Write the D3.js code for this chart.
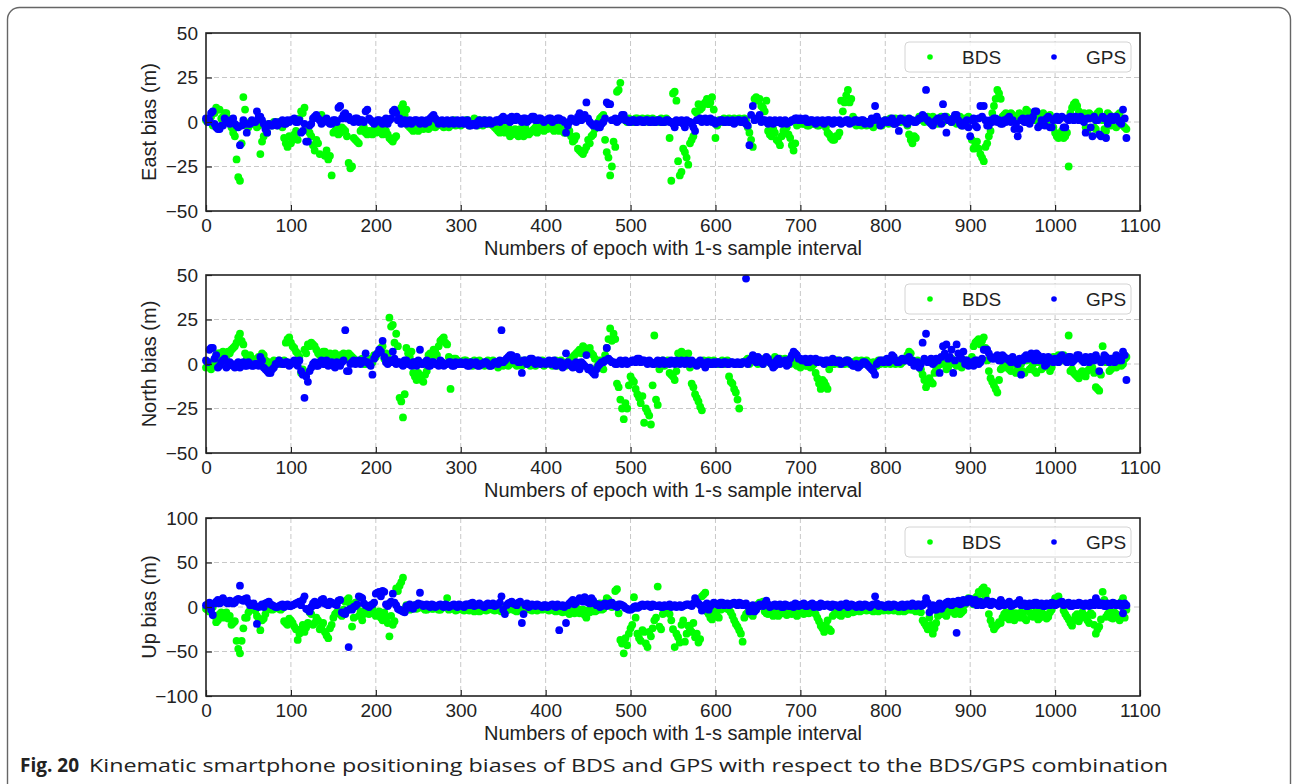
<!DOCTYPE html>
<html>
<head>
<meta charset="utf-8">
<script src="https://cdn.jsdelivr.net/npm/d3@7"></script>
<style>
  body { margin: 0; background: #fff; }
  svg text { font-family: "Liberation Sans", Arial, sans-serif; fill: #222; }
</style>
</head>
<body>
<svg id="canvas"></svg>
<script>
// samples: "A" arrays at epochs 0,4,8..1084, "B" arrays at epochs 2,6,10..1082
const epochStep = 4
const xTicks = [0, 100, 200, 300, 400, 500, 600, 700, 800, 900, 1000, 1100]
const yTicksEN = [-50, -25, 0, 25, 50]
const yTicksU = [-100, -50, 0, 50, 100]
const seriesNames = ['BDS', 'GPS']
const yLabels = ['East bias (m)', 'North bias (m)', 'Up bias (m)']
const xLabel = 'Numbers of epoch with 1-s sample interval'

const eastBdsA = [
  1, 2, -2, 8, 7, 3, 5, -1, -6, -21, -33, 14, -2, 0, -1, -3, -18, -8, -6, -1, 0, -2, -1, -9, -14,
  -12, -7, -10, 6, 8, -4, -8, -16, -12, 4, -19, -21, -30, -5, -7, -3, -5, -23, -25, -10, -12, -4, -6, -5, -7,
  -6, -3, -7, -5, -9, -11, -8, 6, 10, 7, -3, -5, -4, -2, -4, -1, -3, 0, -2, -1, -3, 0, -2, 1, -1,
  -2, 0, 1, -1, 2, -2, 0, 1, -1, 0, -3, -5, -4, -6, -3, -7, -4, -8, -6, -3, -7, -5, -3, -4, -2,
  -3, -2, -4, -3, -5, -4, -6, -5, -11, -8, -16, -18, -14, -12, -7, -3, 2, 4, -17, -30, -11, 17, 22, 2, 0,
  1, 0, 2, 1, 0, 2, 1, 0, 1, 2, 0, 1, -33, 17, -22, -28, -17, -24, -10, 6, 10, 8, 11, 10, 14,
  -9, 1, 0, 1, 2, 0, 1, 2, 0, 1, -6, -14, 14, 13, 8, 12, -7, -4, -10, -13, -5, -3, -9, -16, -2,
  0, -1, -2, 0, -1, -2, 0, -1, -6, -9, -10, -8, 12, 11, 18, 13, -1, 0, -2, -1, 0, -2, -1, 0, -2,
  1, -1, 0, 2, 1, 1, 0, -7, -12, -9, 3, 1, 2, 0, 3, 1, 2, 0, 3, 1, 2, -1, 3, 1, 2,
  1, -15, -11, -18, -22, -12, -5, 9, 18, 13, 4, 2, 5, 1, 3, 2, 4, 6, 3, 1, 4, 2, 3, 1, 2,
  -6, -9, -5, -8, -25, 8, 11, 6, 4, -3, 5, 2, -4, 6, 1, -5, 4, 2, -3, 5, -2, -4
]
const eastBdsB = [
  0, 3, 5, 7, 2, 5, 2, -3, -8, -31, -12, 7, -3, -1, 0, -2, -11, -3, -1, -2, -1, 0, -3, -12, -8,
  -10, -5, 2, 5, -3, -6, -13, -10, -18, 2, -16, -19, -6, -3, -6, -4, -8, -26, -9, -11, -5, -3, -7, -6, -4,
  -5, -6, -4, -7, -10, -9, 5, 8, 4, -2, -4, -3, -5, -3, -2, -4, -1, -3, 0, -2, -1, -3, 0, -2, 0,
  -1, 1, -2, 0, -1, 1, -2, 0, -1, -2, -4, -6, -3, -5, -8, -5, -7, -4, -8, -5, -6, -4, -6, -3, -5,
  -4, -3, -5, -2, -4, -6, -3, -8, -10, -15, -17, -16, -10, -8, -4, 0, 3, -10, -20, -25, -14, 18, 3, 1, 2,
  0, 2, 1, 2, 1, 0, 2, 1, 0, 1, 2, -9, 16, 12, -30, -15, -20, -12, -8, 5, 7, 10, 13, 11, 7,
  -2, 0, 2, 1, 0, 2, 1, 0, 2, -3, -10, 13, 12, 9, 6, -5, -8, -6, -11, -8, -6, -7, -13, -12, -1,
  -1, 0, -2, -1, 0, -2, -1, -3, -7, -10, -8, -6, 6, 15, 11, 3, -2, -1, 0, -2, -1, -3, 0, -1, 0,
  0, 2, -1, 1, 0, 2, -2, -10, -8, 1, 2, 0, 3, 1, 2, -1, 3, 1, 2, 0, 3, 1, -2, 2, 3,
  -10, -13, -15, -20, -14, -8, 5, 13, 16, 3, 5, 1, 4, 2, 5, 3, 7, 2, 4, 3, 1, 5, 2, 4, -3,
  -8, -7, -9, -6, 5, 10, 9, 2, 5, -5, 4, -3, 5, 3, -4, 5, -2, 3, 4, 1, -3
]
const eastGpsA = [
  2, 1, 6, -3, -4, -2, 1, -1, 2, -2, -13, 1, -6, -1, 0, 6, 3, -1, -6, -2, -1, -2, 0, -1, 1,
  1, 2, 0, -6, -1, -11, -1, 3, 2, -1, 1, 0, -1, 1, 8, 2, 5, 3, 1, 2, 0, 1, 6, 2, 0,
  0, 1, -1, 2, 1, 6, 5, 2, 0, -1, 1, 0, 1, -1, 0, 1, 2, 4, 1, 0, -1, 1, 0, -1, 1,
  0, -1, 1, -2, -1, 0, -1, 1, 0, -1, 0, 1, 2, 1, 2, 3, 1, 2, 0, 2, 1, 3, 1, 2, 1,
  1, 2, 0, 1, 2, 1, -6, 0, 1, 0, 5, 2, 11, 0, -2, -1, -3, 0, 11, 10, 1, 0, 2, 4, 1,
  0, 1, 0, 1, 0, 1, 0, 0, 1, 0, 0, 1, 0, -3, 0, 1, -3, 0, -1, -5, 1, 0, 2, 1, 0,
  -1, 0, 1, 0, 0, 1, 0, 1, 0, -1, -13, 9, 2, 4, 1, 0, 1, -1, 0, 1, 0, -1, 0, 1, 2,
  2, 1, 0, 1, 0, 1, 0, -1, 1, 0, 1, 0, -1, 0, 1, 0, 1, 0, 1, -1, 0, 2, 9, 1, -1,
  1, 0, 2, -1, -5, 1, 0, 2, 1, 0, 2, 4, 18, 0, -2, 1, 2, 10, -6, 1, 2, 4, -1, -2, 1,
  -8, 2, -3, 9, 9, -2, 1, 2, 0, -1, 1, 2, 0, -4, -8, 1, 0, 2, 1, 6, -3, 1, -2, 3, -3,
  2, 1, 3, -3, 1, 2, 3, 1, 2, -6, 2, -8, 1, -7, 3, -9, 2, 1, 3, 0, 7, -9
]
const eastGpsB = [
  0, 5, -1, -4, -2, 2, 0, 1, -1, -3, -2, -1, -1, 1, 0, 3, 1, -4, -1, -2, 0, -1, 1, -1, 0,
  1, 0, 1, -5, -11, -2, 2, 4, 1, 0, 2, -1, 1, 0, 9, 4, 2, 1, 0, 2, 1, 0, 7, 1, -1,
  1, 0, 1, -1, 2, 7, 1, -1, 1, 0, -1, 1, 0, 1, -1, 0, 3, 2, -1, 1, 0, -1, 1, 0, -1,
  1, 0, -2, -1, -2, 1, 0, -1, 1, 0, 1, 0, 3, 1, 0, 2, 3, 1, 2, 0, 2, 3, 1, 2, 0,
  1, 2, 1, 2, 1, 0, -2, 2, 1, 3, 1, 4, 2, -1, -2, -3, -1, 2, 10, 1, 2, 1, 4, 1, 0,
  1, 0, 1, 0, 1, 0, 1, 0, 1, 0, 1, 0, -1, 1, 0, -1, 1, 0, -3, 1, 2, 1, 0, 2, 1,
  0, 1, 0, 1, 0, -1, 1, 0, 1, -2, 4, 1, 2, 0, 1, -1, 0, 1, 0, -1, 1, 0, 1, 2, 1,
  1, 2, 0, 1, -1, 0, 1, 0, 1, -1, 0, 1, 0, 1, -1, 0, 1, 0, 1, 0, -1, 1, 3, -2, 0,
  0, 1, -1, 0, 2, 1, -1, 1, 0, 1, 2, 3, 1, -1, 0, 2, -1, 3, 1, 0, 4, 1, -2, 0, -3,
  1, -2, 2, 3, 1, -2, 0, 2, 1, -1, 0, 3, 1, -1, -4, 2, 0, -1, 3, 6, -2, 0, 2, -3, 1,
  3, 2, -3, 2, 3, 1, 2, 3, 0, 2, -3, 3, 1, -8, 2, -1, 3, 2, 1, -1, 2
]
const northBdsA = [
  -2, 1, -1, 5, 6, 7, 4, 6, 9, 12, 17, 11, 3, 5, 2, 3, 1, 5, 1, 0, 2, 1, 0, 2, 14,
  12, 9, 6, -5, 8, 11, 12, 10, 6, 4, 7, 5, 3, 6, 4, 5, 3, 6, 4, 2, 1, 3, 0, 2, 1,
  4, 7, 10, 6, 26, 22, 17, -19, -30, 9, 4, -5, -9, -7, -10, -4, 6, 8, 5, 13, 15, 11, -14, 3, 2,
  1, 2, 0, 1, 2, 0, 1, -1, 2, 0, 1, -2, 0, 1, -1, 2, 0, 1, -1, 2, 0, 1, -1, 0, 2,
  0, 1, -1, 2, 0, 1, -1, 2, 4, 6, 8, 10, 7, 9, 5, -2, 2, -3, 9, 20, 17, -11, -20, -31, -25,
  -7, -10, -17, -22, -33, -27, -34, 16, -23, 1, -1, 2, -6, -9, 6, 7, 5, 6, -11, -17, -21, -26, 1, 2, 0,
  1, 0, 2, 1, -7, -11, -16, -25, 1, 2, 0, 3, 1, 2, 0, 3, 1, 2, 0, 3, 1, 2, 0, 1, -1,
  -2, 0, -1, -2, 0, -8, -14, -10, -14, 1, 0, 2, 1, 0, 2, 1, 0, 1, 2, 0, 1, -1, 0, 2, 1,
  0, 2, 1, 0, 2, 1, 3, 7, 2, 0, 1, -6, -13, -8, -11, -3, 1, 2, -3, 0, 2, -1, 1, 0, 2,
  2, 10, 13, 11, 15, 2, -8, -12, -16, -3, -2, 1, -4, 2, -3, 0, -5, 3, -2, -4, 1, -3, 0, 2, -2,
  3, 5, 2, 4, 16, -3, -6, -8, -4, -7, -3, -2, -13, -15, 10, 1, -4, 3, -2, 2, 0, 4
]
const northBdsB = [
  0, -3, 2, 6, 4, 5, 7, 8, 10, 15, 13, 6, 4, 3, 2, 4, 6, 2, 1, -1, 1, 2, 1, 12, 15,
  10, 7, 4, -3, 6, 10, 11, 8, 5, 7, 3, 6, 4, 2, 5, 6, 4, 5, 3, 1, 2, 0, 1, 3, 5,
  6, 9, 3, 5, 21, 12, 10, -21, -17, 6, 7, -7, -5, -9, -6, 5, 4, 7, 10, 14, 12, 4, 2, 3, 1,
  0, 2, 1, -1, 1, 2, 0, 1, -1, 2, 0, 1, -1, 2, 0, 1, -1, 2, 0, 1, -1, 2, 0, 1, -1,
  1, 0, 1, -1, 2, 0, 1, 3, 5, 7, 6, 9, 8, 6, 3, 0, -2, 5, 14, 13, 14, -13, -25, -22, -12,
  -9, -14, -19, -18, -25, -29, -12, -20, -3, 2, 0, -5, -7, -4, 5, 6, 3, -2, -13, -19, -24, 2, 1, 0, 2,
  0, 1, 0, 2, -10, -14, -20, 0, 1, 3, 2, 4, 0, 1, 3, 2, 0, 4, 1, 2, 3, 1, 2, 0, 1,
  0, -1, 1, -1, -5, -11, -9, -12, -3, 0, 2, 0, 1, 2, 0, 1, 2, 0, 1, 2, 0, 1, -1, 0, 2,
  1, 0, 2, 1, 0, 2, 5, 6, 1, 2, -3, -9, -11, -10, -5, -1, 0, 1, -2, 3, 0, 1, -2, 2, 1,
  4, 12, 14, 13, 9, -4, -10, -14, -9, -2, 2, -3, 0, -5, 1, -4, 2, -3, 0, -5, 2, -2, 1, -4, 4,
  4, 3, 5, 2, -4, -5, -7, -5, -6, -4, -1, -5, -14, -6, 4, 2, -3, 1, 3, -1, 3
]
const northGpsA = [
  2, 8, 9, 5, -1, 2, -2, 1, -1, 0, -2, 1, -1, 0, -1, 0, 4, -2, -4, -5, -2, 0, 1, 0, 1,
  0, 2, -1, -4, -19, -10, -2, 1, -1, 2, 0, -1, 1, -2, 0, 1, 19, -4, 1, 0, 2, 1, 6, 0, -6,
  5, 8, 13, 1, 2, 7, 0, 1, -1, 2, 0, 1, -1, 8, 0, 2, -1, 1, 0, 2, -1, 0, 1, -1, 0,
  1, 0, -1, 1, 0, -1, 0, 1, 0, -1, 1, 0, 19, 2, 4, 5, 3, 1, -5, 2, 1, 3, 0, 2, 1,
  0, 2, 1, -1, 1, -2, 6, 0, -2, 1, -3, 0, 5, -2, -5, -3, 0, 1, 9, 2, 1, 0, 2, 1, 0,
  1, 2, 3, 1, 2, 0, 1, 0, 2, 1, 0, 1, 2, 0, 1, 2, 0, 1, 2, 0, 1, 0, -2, 1, 0,
  0, 1, 0, 1, 0, 1, 0, 0, 1, 48, 2, 5, 1, 3, 0, 4, 1, -2, 2, 0, 1, -1, 3, 7, 5,
  3, 2, 1, 3, 2, 1, 2, 0, 2, 1, 2, 1, 0, 1, 2, 0, -1, -2, 0, 1, -1, -3, -6, 1, 2,
  2, 1, 5, 2, 1, 3, 2, 4, 2, 0, -2, 12, 17, 2, 0, 3, -5, 10, 11, 4, -5, 11, 5, 7, 2,
  0, -1, 2, 1, 8, 8, 4, 3, 5, 2, 4, 3, 1, 2, 0, -6, 4, 3, 6, 2, 5, 3, -1, 4, 2,
  3, 1, 5, 2, 4, 1, 3, 5, 2, 4, 1, 3, 5, -4, 2, 4, 1, 3, 5, 2, 7, -9
]
const northGpsB = [
  1, 9, 3, -2, 1, 3, -1, 0, -2, 1, 0, -1, 1, -1, 0, -1, 2, -3, -5, -3, 0, 2, 0, 1, -1,
  1, 0, 2, -6, -7, -4, 0, -1, 1, 0, 2, 0, -1, 1, -1, 2, -4, 0, 2, 1, 0, 2, 1, -1, 3,
  6, 7, 4, 0, 1, 3, 1, 0, 2, 0, -1, 1, 2, 0, 1, -1, 1, 0, -1, 1, 0, 1, -1, 1, 0,
  0, 1, -1, 0, 1, -1, 0, 1, -1, 0, 1, 2, 1, 3, 5, 2, 4, 1, 2, 0, 3, 1, 2, 0, 1,
  1, 0, 2, 0, 1, -1, 1, -1, 0, -2, 1, -1, -3, -4, -6, -1, 1, 2, 3, 1, 0, 1, 0, 2, 1,
  2, 1, 3, 2, 1, 2, 0, 1, 0, 2, 1, 0, 1, 2, 0, 1, 2, 0, 1, -1, 2, 0, 1, 0, 1,
  1, 0, 1, 0, 1, 0, 1, 0, 1, 0, 3, 2, 4, 1, 2, 3, 0, -1, 3, 1, 2, 0, 5, 6, 3,
  2, 3, 1, 2, 3, 2, 1, 2, 1, 3, 1, 2, 1, 2, 1, -1, 0, -1, 1, 0, -2, -4, 0, 2, 1,
  3, 2, 4, 1, 2, 2, 3, 1, -1, 1, 0, 3, 1, 3, 1, 2, 4, 6, 3, 8, 2, 6, 3, 0, -1,
  1, 2, 0, 3, 8, 6, 3, 4, 2, 5, 3, 2, 4, 1, 3, 2, 5, 4, 3, 6, 2, 4, 0, 3, 1,
  2, 4, 3, 1, 4, 2, 5, 3, 1, 3, 4, 2, 3, 1, 5, 2, 3, 1, 4, 2, 5
]
const upBdsA = [
  -2, -5, 0, -17, -8, -12, -6, -10, -18, -38, -52, -24, -12, -3, -1, -10, -26, -13, -3, 0, -2, -1, -3, -16, -20,
  -15, -22, -37, -25, -28, -18, -8, -18, -15, -22, -28, -35, -20, -8, -5, -10, 6, 10, -22, 5, -10, -15, -4, -8, -2,
  -10, -5, -15, -12, -33, -20, 21, 24, 33, 2, -3, 1, -2, 3, -1, -3, 0, -2, -1, -3, 0, 10, -2, -1, -3,
  -2, -4, 0, -3, -5, -2, -4, -1, -3, 0, -4, -2, -5, -1, -3, 0, -4, -2, 2, -3, -1, -4, 0, -2, -3,
  -1, -4, -2, -5, 0, -6, -3, -8, -2, -5, -7, -3, -12, -6, 2, -4, 4, -2, 10, 3, 3, 20, -37, -52, -43,
  -24, 11, -30, -38, -28, -45, -33, -15, 23, -25, -3, -1, -15, -45, -34, -20, -39, -21, -28, -34, -40, 12, 16, -8, -14,
  -5, -12, -2, 1, -3, -10, -19, -26, -39, -8, -4, -10, -2, 5, 6, -7, -3, -10, -5, -8, -4, -9, -3, -6, -10,
  -4, -8, -2, -6, -3, -12, -21, -28, -15, -27, -8, -5, -10, -6, -8, -3, -5, -2, -4, -3, -1, -4, -2, -5, -3,
  -2, -4, -1, -3, -5, -2, -4, -1, -3, -5, -2, -15, -21, -12, -30, -18, -6, -3, -10, -1, -5, -2, -8, -4, 5,
  8, 3, 12, 15, 22, 18, -15, -25, -20, -18, -8, -12, -5, -15, -9, -6, -13, -4, -10, -7, -14, -5, -9, -11, -3,
  10, 12, 4, -8, -14, -21, -10, -16, -6, -12, -18, -9, -30, -22, 17, -11, -5, -13, -8, -15, 10, -3
]
const upBdsB = [
  -3, -1, -10, -15, -6, -9, -13, -20, -16, -47, -38, -12, -6, -2, -4, -13, -15, -8, -1, -3, 0, -2, -1, -18, -13,
  -18, -25, -30, -20, -23, -6, -20, -12, -25, -18, -32, -24, -12, -6, -8, -3, 8, 3, -12, 2, -5, -8, -6, -3, -7,
  -8, -12, -6, -18, -10, -16, 18, 28, -2, 0, -2, 2, -1, 1, -3, 0, -2, 1, -3, -1, 2, -3, -1, -4, -1,
  -3, -1, -4, -2, -3, -5, -1, -4, -2, -3, -1, -4, -2, -4, -1, -3, -5, 0, -4, -2, -3, -1, -4, -1, -2,
  -3, -1, -4, -2, -5, -1, -6, -4, -7, -2, -6, -9, -4, -2, -5, 1, -3, 5, 8, 0, 18, -7, -41, -35, -30,
  -20, -12, -35, -26, -41, -28, -24, -12, -22, -8, -2, -8, -25, -30, -40, -15, -30, -25, -18, -30, -36, 14, -5, -12, -6,
  -10, -3, 0, -2, -6, -15, -22, -30, -12, -6, -8, -4, 3, 4, -5, -8, -4, -7, -10, -5, -7, -4, -8, -5, -3,
  -6, -4, -7, -2, -8, -16, -24, -20, -25, -10, -6, -9, -5, -7, -4, -6, -3, -5, -2, -4, -3, -5, -1, -3, -4,
  -3, -2, -4, -1, -3, -5, -2, -3, -1, -4, -6, -18, -25, -20, -24, -10, -8, -2, -6, -4, -8, 0, -6, 3, 10,
  6, 10, 17, 20, 12, -8, -20, -22, -17, -12, -6, -14, -10, -7, -12, -8, -15, -6, -11, -4, -12, -8, -13, -6, 2,
  8, 6, -4, -11, -18, -15, -8, -12, -9, -15, -7, -20, -25, -14, 8, -8, -12, -6, -10, 6, -12
]
const upGpsA = [
  2, 5, -9, 6, 4, 10, 5, 7, 4, 8, 24, 7, 10, 2, 4, -19, 1, 0, 5, 3, 1, 0, 2, 0, 3,
  1, 3, 5, 2, 12, -3, 0, 6, 3, 8, 4, 2, 5, 3, 7, -6, -8, -45, -3, 1, 12, 10, 2, 0, 3,
  15, 17, 18, 3, 4, 15, 2, -3, -5, 1, 3, -2, 2, 16, 1, 3, 0, 2, 1, 3, 0, 2, 1, 3, 0,
  2, 0, 3, 4, 1, 3, 2, 0, 4, 2, 1, 3, 12, -8, 4, 6, 3, 5, -18, 2, 0, 3, 1, 2, 0,
  2, 1, 3, 0, -26, 2, -18, 4, 8, 5, 10, 6, 9, 4, 7, 2, 0, 3, 1, 4, 2, 0, 3, 1, -2,
  -3, 0, -1, 2, 1, 3, 0, 2, 1, 0, 2, 1, 0, 2, 1, 0, 2, 3, 1, 10, 4, -4, 2, -3, 3,
  4, 2, 5, 3, 2, 4, 3, 5, 2, 4, -5, 2, -3, 3, 1, 7, 0, 2, 1, 3, 0, 2, 1, 0, 3,
  2, 4, 1, 3, 0, 2, 4, 1, 3, 0, 2, 1, 3, 2, 0, 3, 1, 2, 0, 3, 1, 2, 12, 1, 2,
  0, 3, 1, 2, 0, 3, 1, 2, 4, 1, 3, 2, 10, -6, 2, -3, 4, 1, 5, 3, 6, -29, 3, 8, 5,
  9, 4, 2, 6, 3, 7, 2, 5, 3, 8, 2, 4, 1, 3, 5, 2, 4, 1, 3, 5, 2, 4, 1, 3, 5,
  2, 4, 6, 3, 5, 1, 3, 5, 2, 4, 1, 3, 10, 2, 4, 1, 3, 5, 2, 4, -7, 2
]
const upGpsB = [
  3, -3, 4, 8, 6, 7, 4, 6, 5, 9, 8, 9, 5, 3, 1, 0, 3, 4, 6, 2, 0, 1, 3, 2, 1,
  2, 4, 6, 8, -2, -5, 4, 2, 5, 9, 3, 6, 4, 2, 8, -7, -4, -2, 0, 3, 11, 4, 1, 2, 5,
  16, 12, 17, 1, 6, 5, -2, -4, -6, -1, 0, 2, 4, 3, 2, 1, 3, 0, 2, 1, 3, 0, 2, 1, 3,
  1, 3, 2, 5, 2, 4, 1, 3, 2, 4, 2, 5, -3, 2, 5, 4, 2, 6, -8, 4, 1, 2, 3, 1, 2,
  0, 2, 1, 3, 1, 0, 2, 6, 3, 7, 8, 11, 5, 10, 4, 3, 1, 4, 2, 5, 1, 3, 2, -1, -3,
  -2, 1, 0, 3, 2, 1, 3, 1, 2, 0, 1, 3, 1, 0, 2, 1, 3, 2, 4, 6, 2, -2, 4, 1, 5,
  3, 5, 2, 4, 3, 5, 2, 4, 3, 1, -3, -5, 0, 2, 4, 3, 1, 3, 2, 0, 3, 1, 2, 4, 1,
  3, 1, 2, 4, 2, 0, 3, 2, 1, 3, 2, 0, 2, 4, 1, 2, 0, 3, 1, 2, 0, 3, 4, 2, 1,
  2, 0, 3, 1, 2, 0, 3, 1, 2, 3, 1, 4, 5, 0, -3, 2, -2, 3, 6, 2, 4, 7, 4, 6, 9,
  6, 8, 4, 2, 5, 3, 6, 4, 1, 5, 3, 6, 2, 4, 8, 3, 1, 4, 2, 5, 3, 1, 4, 2, 4,
  3, 5, 2, 4, 1, 4, 2, 4, 1, 3, 5, 2, 6, 3, 1, 4, 2, 4, 3, 1, 4
]

const colors = { BDS: '#00ff00', GPS: '#0000ff' }

let width = 1292
let height = 784
let left = 206
let right = 1140
let plotHeight = 178
let panelTops = [33, 275, 518]

// [epoch, value] pairs from the two sampling offsets
const toPoints = (a, b) =>
  a.map((v, k) => [k * epochStep, v])
    .concat(b.map((v, k) => [k * epochStep + epochStep / 2, v]))

const panels = [
  { label: yLabels[0], ticks: yTicksEN, BDS: toPoints(eastBdsA, eastBdsB), GPS: toPoints(eastGpsA, eastGpsB) },
  { label: yLabels[1], ticks: yTicksEN, BDS: toPoints(northBdsA, northBdsB), GPS: toPoints(northGpsA, northGpsB) },
  { label: yLabels[2], ticks: yTicksU, BDS: toPoints(upBdsA, upBdsB), GPS: toPoints(upGpsA, upGpsB) }
]

const svg = d3.select('#canvas')
  .attr('width', width)
  .attr('height', height)

// outer figure frame
svg.append('rect')
  .attr('x', 7.5).attr('y', 7.5)
  .attr('width', 1283).attr('height', 820)
  .attr('rx', 12)
  .attr('fill', 'none')
  .attr('stroke', '#666')
  .attr('stroke-width', 1.4)

const xScale = d3.scaleLinear()
  .domain([0, 1100])
  .range([left, right])

panels.forEach((p, i) => {
  const top = panelTops[i]
  const bottom = top + plotHeight
  const yScale = d3.scaleLinear()
    .domain([d3.min(p.ticks), d3.max(p.ticks)])
    .range([bottom, top])

  const g = svg.append('g')

  // dashed grid
  g.append('g').selectAll('line')
    .data(xTicks.slice(1, -1))
    .enter().append('line')
    .attr('x1', d => xScale(d)).attr('x2', d => xScale(d))
    .attr('y1', top).attr('y2', bottom)
    .attr('stroke', '#c8c8c8').attr('stroke-dasharray', '5,3')
  g.append('g').selectAll('line')
    .data(p.ticks.slice(1, -1))
    .enter().append('line')
    .attr('x1', left).attr('x2', right)
    .attr('y1', d => yScale(d)).attr('y2', d => yScale(d))
    .attr('stroke', '#c8c8c8').attr('stroke-dasharray', '5,3')

  // points: BDS below, GPS on top
  seriesNames.forEach(name => {
    g.append('g').selectAll('circle')
      .data(p[name])
      .enter().append('circle')
      .attr('cx', d => xScale(d[0]))
      .attr('cy', d => yScale(d[1]))
      .attr('r', 3.9)
      .attr('fill', colors[name])
  })

  const xAxis = d3.axisBottom(xScale)
    .tickValues(xTicks)
    .tickFormat(d3.format('d'))
    .tickSizeInner(-6).tickSizeOuter(0).tickPadding(8)
  const yAxis = d3.axisLeft(yScale)
    .tickValues(p.ticks)
    .tickSizeInner(-6).tickSizeOuter(0).tickPadding(8)

  const gx = g.append('g')
    .attr('transform', 'translate(0,' + bottom + ')')
    .call(xAxis)
  const gy = g.append('g')
    .attr('transform', 'translate(' + left + ',0)')
    .call(yAxis)
  ;[gx, gy].forEach(a => {
    a.select('.domain').remove()
    a.selectAll('.tick line').attr('stroke', '#222').attr('stroke-width', 1.2)
    a.selectAll('.tick text').attr('font-size', 19).attr('fill', '#222')
      .style('font-family', '"Liberation Sans", Arial, sans-serif')
  })

  // spines
  g.append('rect')
    .attr('x', left).attr('y', top)
    .attr('width', right - left).attr('height', plotHeight)
    .attr('fill', 'none')
    .attr('stroke', '#222')
    .attr('stroke-width', 1.6)

  // axis titles
  g.append('text')
    .attr('x', (left + right) / 2)
    .attr('y', bottom + 44)
    .attr('text-anchor', 'middle')
    .attr('font-size', 20)
    .text(xLabel)
  g.append('text')
    .attr('transform', 'translate(156,' + (top + plotHeight / 2) + ') rotate(-90)')
    .attr('text-anchor', 'middle')
    .attr('font-size', 20)
    .text(p.label)

  // legend
  const lg = g.append('g')
    .attr('transform', 'translate(' + (right - 235) + ',' + (top + 9) + ')')
  lg.append('rect')
    .attr('width', 226).attr('height', 30)
    .attr('rx', 4)
    .attr('fill', 'white').attr('fill-opacity', 0.85)
    .attr('stroke', '#d4d4d4')
  seriesNames.forEach((name, k) => {
    lg.append('circle')
      .attr('cx', 25 + k * 124).attr('cy', 15)
      .attr('r', 2.8)
      .attr('fill', colors[name])
    lg.append('text')
      .attr('x', 57 + k * 124).attr('y', 22)
      .attr('font-size', 19)
      .text(name)
  })
})

// caption
const caption = svg.append('text')
  .attr('x', 20).attr('y', 772)
  .attr('font-size', 18)
  .style('font-family', '"Open Sans", "Noto Sans", sans-serif')
caption.append('tspan')
  .attr('font-weight', 'bold')
  .attr('font-size', 19)
  .text('Fig. 20')
caption.append('tspan')
  .attr('x', 89)
  .attr('textLength', 1079)
  .attr('lengthAdjust', 'spacingAndGlyphs')
  .text('Kinematic smartphone positioning biases of BDS and GPS with respect to the BDS/GPS combination')
</script>
</body>
</html>
